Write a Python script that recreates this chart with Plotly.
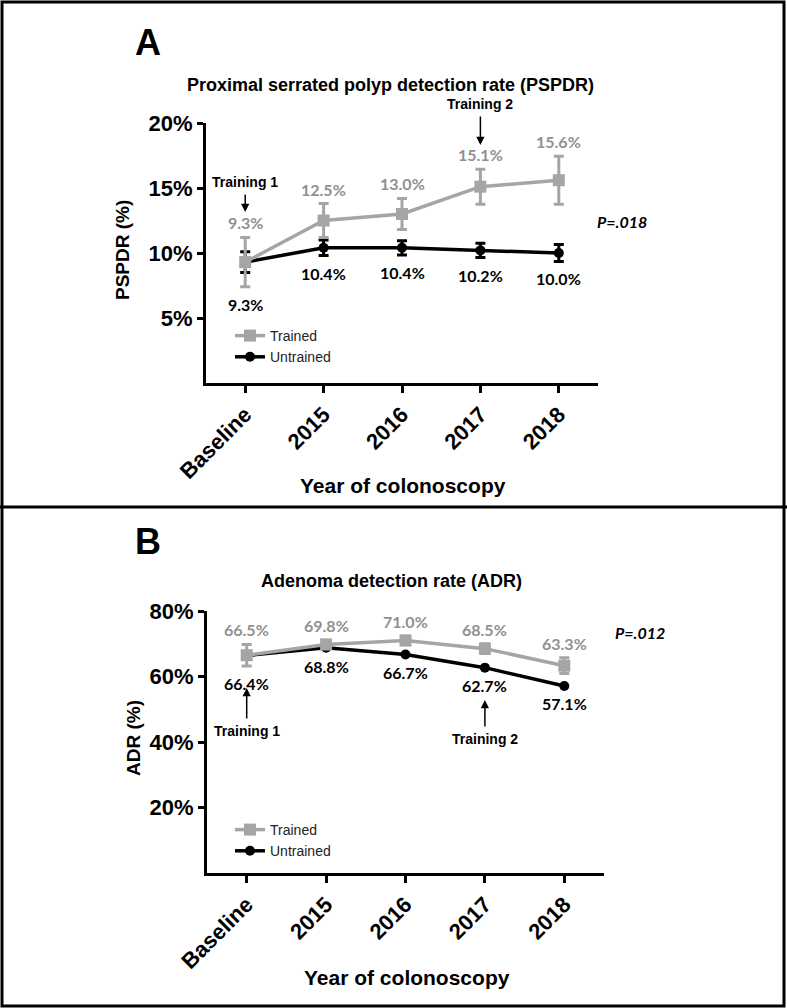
import plotly.graph_objects as go

# ---------------- data ----------------
years = ["Baseline", "2015", "2016", "2017", "2018"]

pspdr_trained = [9.3, 12.5, 13.0, 15.1, 15.6]
pspdr_trained_err = [1.9, 1.3, 1.2, 1.35, 1.85]
pspdr_untrained = [9.3, 10.4, 10.4, 10.2, 10.0]
pspdr_untrained_err = [0.8, 0.6, 0.55, 0.55, 0.65]

adr_trained = [66.5, 69.8, 71.0, 68.5, 63.3]
adr_trained_err = [3.3, 1.3, 1.3, 1.5, 2.4]
adr_untrained = [66.4, 68.8, 66.7, 62.7, 57.1]
adr_untrained_err = [0, 0, 0, 0, 0]

pspdr_ticks = [5, 10, 15, 20]
adr_ticks = [20, 40, 60, 80]

# ---------------- style ----------------
W, H = 787, 1008
GREY = "#a5a5a5"
GREY_TXT = "#909090"
ARIAL = "Liberation Sans, Arial, sans-serif"
LABF = "Lato, Open Sans, sans-serif"


def px(x):
    return x / W


def py(y):
    return 1 - y / H


fig = go.Figure()


def add_panel(tr, tre, un, une, xa, ya, leg):
    fig.add_trace(go.Scatter(
        x=years, y=un, name="Untrained", mode="lines+markers",
        line=dict(color="black", width=3.5),
        marker=dict(symbol="circle", size=10, color="black"),
        error_y=dict(type="data", array=une, color="black", thickness=3, width=5,
                     visible=any(v > 0 for v in une)),
        xaxis=xa, yaxis=ya, legend=leg))
    fig.add_trace(go.Scatter(
        x=years, y=tr, name="Trained", mode="lines+markers",
        line=dict(color=GREY, width=3.5),
        marker=dict(symbol="square", size=12, color=GREY),
        error_y=dict(type="data", array=tre, color=GREY, thickness=3, width=5),
        xaxis=xa, yaxis=ya, legend=leg))
    for i in range(len(years)):
        top = max(tr[i] + tre[i], un[i] + une[i])
        bot = min(tr[i] - tre[i], un[i] - une[i])
        fig.add_annotation(x=i, y=top, xref=xa, yref=ya, text=f"{tr[i]:.1f}%",
                           showarrow=False, yanchor="bottom", yshift=3, xanchor="center",
                           font=dict(family=LABF, size=16, color=GREY_TXT, weight="bold"))
        fig.add_annotation(x=i, y=bot, xref=xa, yref=ya, text=f"{un[i]:.1f}%",
                           showarrow=False, yanchor="top", yshift=-6, xanchor="center",
                           font=dict(family=LABF, size=16, color="black", weight="bold"))


add_panel(pspdr_trained, pspdr_trained_err, pspdr_untrained, pspdr_untrained_err, "x", "y", "legend")
add_panel(adr_trained, adr_trained_err, adr_untrained, adr_untrained_err, "x2", "y2", "legend2")

xaxis_common = dict(
    type="category", range=[-0.5, 4.5], showline=True, linecolor="black", linewidth=3,
    ticks="outside", ticklen=7, tickwidth=2.5, tickcolor="black", tickangle=-45,
    tickfont=dict(family=ARIAL, size=22, color="black", weight="bold"),
    showgrid=False, zeroline=False, fixedrange=True, automargin=False)
yaxis_common = dict(
    showline=True, linecolor="black", linewidth=3,
    ticks="outside", ticklen=6, tickwidth=2.5, tickcolor="black",
    tickfont=dict(family=ARIAL, size=22, color="black", weight="bold"),
    showgrid=False, zeroline=False, fixedrange=True, automargin=False)

legend_common = dict(
    xanchor="left", yanchor="top", traceorder="reversed", itemwidth=30,
    bgcolor="rgba(0,0,0,0)", font=dict(family=ARIAL, size=14, color="#222222"))

fig.update_layout(
    template="none",
    width=W, height=H, margin=dict(l=0, r=0, t=0, b=0, pad=0, autoexpand=False),
    paper_bgcolor="white", plot_bgcolor="white",
    xaxis=dict(xaxis_common, domain=[px(206), px(598)], anchor="y"),
    yaxis=dict(yaxis_common, domain=[py(383), py(123)], range=[0, 20],
               tickvals=pspdr_ticks, ticktext=[f"{v}%" for v in pspdr_ticks], anchor="x"),
    xaxis2=dict(xaxis_common, domain=[px(207), px(604)], anchor="y2"),
    yaxis2=dict(yaxis_common, domain=[py(873), py(611)], range=[0, 80],
                tickvals=adr_ticks, ticktext=[f"{v}%" for v in adr_ticks], anchor="x2"),
    legend=dict(legend_common, x=px(230), y=py(320)),
    legend2=dict(legend_common, x=px(230), y=py(814)),
    showlegend=True,
)

anns = [
    dict(x=px(148), y=py(43), text="A", font=dict(size=36)),
    dict(x=px(148), y=py(541), text="B", font=dict(size=36)),
    dict(x=px(390), y=py(85), text="Proximal serrated polyp detection rate (PSPDR)", font=dict(size=18)),
    dict(x=px(391), y=py(581), text="Adenoma detection rate (ADR)", font=dict(size=18)),
    dict(x=px(403), y=py(485), text="Year of colonoscopy", font=dict(size=21)),
    dict(x=px(407), y=py(977), text="Year of colonoscopy", font=dict(size=21)),
    dict(x=px(122), y=py(250), text="PSPDR (%)", font=dict(size=19), textangle=-90),
    dict(x=px(133), y=py(738), text="ADR (%)", font=dict(size=19), textangle=-90),
]
for a in anns:
    f = dict(family=ARIAL, color="black", weight="bold")
    f.update(a.pop("font"))
    fig.add_annotation(xref="paper", yref="paper", showarrow=False,
                       xanchor="center", yanchor="middle", font=f, **a)

# P values
for xx, yy, t in [(622, 221, "P=.018"), (640, 632, "P=.012")]:
    fig.add_annotation(xref="paper", yref="paper", x=px(xx), y=py(yy), text=f"<i>{t}</i>",
                       showarrow=False, xanchor="center", yanchor="middle",
                       font=dict(family=LABF, size=16, color="black", weight="bold"))

# training arrows
arrow_font = dict(family=ARIAL, size=14, color="black", weight="bold")
arrows = [
    dict(x=0, y=13.15, xref="x", yref="y", ay=-30),
    dict(x=3, y=18.3, xref="x", yref="y", ay=-41),
    dict(x=0, y=56.5, xref="x2", yref="y2", ay=43),
    dict(x=3, y=52.8, xref="x2", yref="y2", ay=39),
]
labels = ["Training 1", "Training 2", "Training 1", "Training 2"]
for a, t in zip(arrows, labels):
    fig.add_annotation(text=t, showarrow=True, arrowhead=2, arrowsize=1.1, arrowwidth=1.5,
                       arrowcolor="black", ax=0, axref="pixel", ayref="pixel",
                       borderpad=4, font=arrow_font, **a)

# frame
fig.add_shape(type="rect", xref="paper", yref="paper", x0=px(2), x1=px(784), y0=py(1006), y1=py(2),
              line=dict(color="black", width=3))
fig.add_shape(type="line", xref="paper", yref="paper", x0=0, x1=1, y0=py(507), y1=py(507),
              line=dict(color="black", width=3))

fig.write_html("out.html", config={"displayModeBar": False},
               post_script="document.body.style.margin='0';document.body.style.overflow='hidden';")
